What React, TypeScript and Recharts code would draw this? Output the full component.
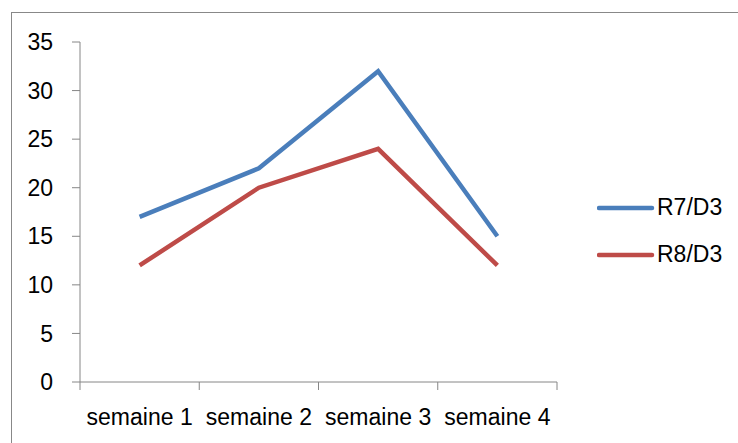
import React from "react"
import { LineChart, Line, XAxis, YAxis, Legend } from "recharts"

const categories = ["semaine 1", "semaine 2", "semaine 3", "semaine 4"]
const r7 = [17, 22, 32, 15]
const r8 = [12, 20, 24, 12]
const yTicks = [0, 5, 10, 15, 20, 25, 30, 35]
const boundaryTicks = [0, 1, 2, 3, 4]

const BLUE = "#4A7EBB"
const RED = "#BE4B48"
const AXIS = "#868686"
const FONT = "'Liberation Sans', Arial, sans-serif"

// pos = middle of each category slot, used only for the boundary tick axis
const data = categories.map((name, i) => ({ name, pos: i + 0.5, r7: r7[i], r8: r8[i] }))

// eslint-disable-next-line @typescript-eslint/no-explicit-any
function LegendBox({ payload }: any) {
  return (
    <div style={{ fontFamily: FONT, fontSize: 23, color: "#000" }}>
      {/* eslint-disable-next-line @typescript-eslint/no-explicit-any */}
      {(payload || []).map((p: any) => (
        <div key={p.value} style={{ height: 47, display: "flex", alignItems: "center" }}>
          <svg width={60} height={10}>
            <line x1={2} y1={5} x2={55} y2={5} stroke={p.color} strokeWidth={4.5} strokeLinecap="round" />
          </svg>
          <span>{p.value}</span>
        </div>
      ))}
    </div>
  )
}

export default function App() {
  return (
    <div style={{ position: "absolute", left: 0, top: 0, width: 738, height: 443, overflow: "hidden", background: "#fff" }}>
      <div
        style={{
          position: "absolute",
          left: 11,
          top: 12,
          width: 760,
          height: 480,
          border: "1px solid #888",
          boxSizing: "border-box",
        }}
      />
      <div style={{ position: "absolute", left: 0, top: 0 }}>
        <LineChart width={738} height={443} data={data} margin={{ top: 42, right: 181, bottom: 30, left: 0 }}>
          <XAxis
            xAxisId={0}
            dataKey="pos"
            type="number"
            domain={[0, 4]}
            ticks={boundaryTicks}
            height={1}
            stroke={AXIS}
            tickSize={8}
            tickFormatter={() => ""}
          />
          <XAxis
            xAxisId={1}
            dataKey="name"
            scale="band"
            height={30}
            axisLine={false}
            tickLine={false}
            tickSize={0}
            tickMargin={26}
            interval={0}
            tick={{ fill: "#000", fontSize: 23, fontFamily: FONT }}
          />
          <YAxis
            width={80}
            domain={[0, 35]}
            ticks={yTicks}
            stroke={AXIS}
            tickSize={8}
            tickMargin={19}
            tick={{ fill: "#000", fontSize: 23, fontFamily: FONT }}
          />
          <Legend
            layout="horizontal"
            align="center"
            verticalAlign="middle"
            content={<LegendBox />}
            wrapperStyle={{ left: 597, top: 184, width: 140 }}
          />
          <Line xAxisId={1} dataKey="r7" name="R7/D3" stroke={BLUE} strokeWidth={4.5} dot={false} isAnimationActive={false} />
          <Line xAxisId={1} dataKey="r8" name="R8/D3" stroke={RED} strokeWidth={4.5} dot={false} isAnimationActive={false} />
        </LineChart>
      </div>
    </div>
  )
}
